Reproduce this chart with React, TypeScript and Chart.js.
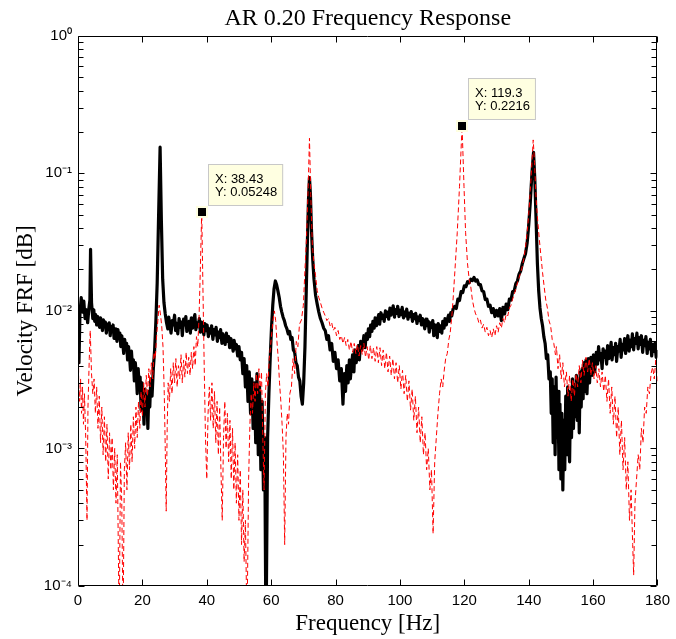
import React, { useEffect, useRef } from "react";
import { Chart, registerables } from "chart.js";

Chart.register(...registerables);

const chartTitle = "AR 0.20 Frequency Response";
const xAxisTitle = "Frequency [Hz]";
const yAxisTitle = "Velocity FRF [dB]";

const xTicks = [0, 20, 40, 60, 80, 100, 120, 140, 160, 180];
const yDecades = [1e-4, 1e-3, 1e-2, 1e-1, 1];
const yTickLabels = ["10\u207B\u2074", "10\u207B\u00B3", "10\u207B\u00B2", "10\u207B\u00B9", "10\u2070"];

// Black solid series: [frequency Hz, magnitude]
const blackSeries: [number, number][] = [
  [0, 0.0085], [0.3, 0.0042], [0.6, 0.0095], [1.0, 0.0125], [1.4, 0.0098], [1.8, 0.0118], [2.2, 0.0088], [2.6, 0.0102],
  [3.0, 0.0082], [3.4, 0.0105], [3.7, 0.012], [3.9, 0.028], [4.2, 0.0115], [4.6, 0.0088], [4.9, 0.0102], [5.2, 0.0084],
  [5.5, 0.0094], [5.8, 0.0079], [6.1, 0.0091], [6.4, 0.0085], [6.7, 0.0076], [7.0, 0.0089], [7.3, 0.0081], [7.6, 0.0072],
  [7.9, 0.0086], [8.2, 0.0078], [8.5, 0.0083], [8.8, 0.0069], [9.1, 0.008], [9.4, 0.0074], [9.7, 0.0082], [10.0, 0.0066],
  [10.3, 0.0077], [10.6, 0.0071], [10.9, 0.0079], [11.2, 0.0063], [11.5, 0.0074], [11.8, 0.0068], [12.1, 0.006], [12.4, 0.0073],
  [12.7, 0.0064], [13.0, 0.0069], [13.3, 0.0055], [13.6, 0.0066], [13.9, 0.0058], [14.2, 0.0049], [14.5, 0.0062], [14.8, 0.0053],
  [15.1, 0.0058], [15.4, 0.0044], [15.7, 0.0055], [16.0, 0.0047], [16.3, 0.0037], [16.6, 0.0051], [16.9, 0.004], [17.2, 0.0044],
  [17.5, 0.0031], [17.8, 0.0042], [18.1, 0.0035], [18.4, 0.0025], [18.7, 0.0038], [19.0, 0.0028], [19.3, 0.0033], [19.6, 0.0019],
  [19.9, 0.003], [20.2, 0.0022], [20.5, 0.0015], [20.8, 0.0027], [21.1, 0.0018], [21.4, 0.0024], [21.7, 0.0014], [22.0, 0.0026],
  [22.3, 0.002], [22.6, 0.0032], [23.0, 0.0024], [23.4, 0.0038], [23.8, 0.0052], [24.2, 0.0085], [24.6, 0.016], [25.0, 0.045],
  [25.5, 0.155], [25.9, 0.045], [26.3, 0.017], [26.7, 0.0115], [27.1, 0.0095], [27.5, 0.0082], [27.9, 0.0074], [28.2, 0.009],
  [28.6, 0.0078], [28.9, 0.0069], [29.3, 0.0085], [29.6, 0.0079], [30.0, 0.0093], [30.3, 0.0072], [30.7, 0.0081], [31.0, 0.0068],
  [31.4, 0.0088], [31.7, 0.0076], [32.1, 0.0083], [32.4, 0.0066], [32.8, 0.0087], [33.1, 0.0079], [33.5, 0.0091], [33.8, 0.0071],
  [34.2, 0.0078], [34.5, 0.0084], [34.9, 0.0069], [35.2, 0.0089], [35.6, 0.0075], [35.9, 0.0086], [36.3, 0.0094], [36.6, 0.0073],
  [37.0, 0.0082], [37.3, 0.0077], [37.7, 0.0088], [38.0, 0.007], [38.4, 0.0083], [38.7, 0.0076], [39.1, 0.0067], [39.4, 0.0081],
  [39.8, 0.0072], [40.1, 0.0079], [40.5, 0.0065], [40.8, 0.0074], [41.2, 0.0069], [41.5, 0.0078], [41.9, 0.0062], [42.2, 0.0073],
  [42.6, 0.0067], [42.9, 0.0076], [43.3, 0.006], [43.6, 0.007], [44.0, 0.0064], [44.3, 0.0073], [44.7, 0.0058], [45.0, 0.0068],
  [45.4, 0.0062], [45.7, 0.0057], [46.1, 0.0069], [46.4, 0.006], [46.8, 0.0065], [47.1, 0.0054], [47.5, 0.0063], [47.8, 0.0058],
  [48.2, 0.0051], [48.5, 0.0061], [48.9, 0.0053], [49.2, 0.0057], [49.6, 0.0047], [50.0, 0.0055], [50.4, 0.0044], [50.8, 0.005],
  [51.2, 0.0035], [51.6, 0.0045], [52.0, 0.0028], [52.4, 0.004], [52.8, 0.0022], [53.2, 0.0036], [53.6, 0.0018], [54.0, 0.0032],
  [54.4, 0.0014], [54.8, 0.003], [55.2, 0.0011], [55.6, 0.0035], [56.0, 0.0009], [56.4, 0.0028], [56.8, 0.0007], [57.2, 0.0022],
  [57.6, 0.0005], [58.0, 0.0012], [58.2, 0.0002], [58.4, 0.00004], [58.7, 0.00004], [58.9, 0.0012], [59.3, 0.0025], [59.7, 0.0045],
  [60.1, 0.0075], [60.5, 0.011], [60.9, 0.0145], [61.3, 0.0165], [61.7, 0.0155], [62.1, 0.014], [62.5, 0.0125], [62.9, 0.0108],
  [63.3, 0.0098], [63.7, 0.009], [64.1, 0.0085], [64.5, 0.0078], [64.9, 0.0074], [65.3, 0.0068], [65.7, 0.0071], [66.1, 0.0062],
  [66.5, 0.0064], [66.9, 0.0052], [67.3, 0.005], [67.7, 0.0042], [68.1, 0.004], [68.5, 0.0033], [68.9, 0.0031], [69.3, 0.0024],
  [69.7, 0.0021], [70.1, 0.003], [70.5, 0.0055], [70.9, 0.014], [71.3, 0.035], [71.6, 0.065], [71.9, 0.093], [72.2, 0.07],
  [72.5, 0.04], [72.9, 0.024], [73.3, 0.017], [73.8, 0.013], [74.3, 0.0112], [74.8, 0.0098], [75.3, 0.0088], [75.8, 0.0082],
  [76.3, 0.0075], [76.8, 0.0072], [77.3, 0.0062], [77.8, 0.0066], [78.3, 0.0052], [78.8, 0.0058], [79.3, 0.0043], [79.8, 0.005],
  [80.3, 0.0038], [80.8, 0.0044], [81.3, 0.0031], [81.8, 0.0038], [82.3, 0.0021], [82.7, 0.0035], [83.1, 0.0026], [83.5, 0.004],
  [83.9, 0.003], [84.3, 0.0044], [84.6, 0.0032], [85.0, 0.0041], [85.3, 0.0048], [85.7, 0.0036], [86.0, 0.0052], [86.4, 0.0042],
  [86.7, 0.0047], [87.1, 0.0056], [87.4, 0.0044], [87.8, 0.006], [88.1, 0.0052], [88.5, 0.0058], [88.8, 0.0066], [89.2, 0.0054],
  [89.5, 0.0068], [89.9, 0.0062], [90.2, 0.0074], [90.6, 0.0065], [90.9, 0.0079], [91.3, 0.0071], [91.6, 0.0084], [92.0, 0.0075],
  [92.3, 0.0089], [92.7, 0.0078], [93.0, 0.0086], [93.4, 0.0094], [93.7, 0.008], [94.1, 0.0097], [94.4, 0.0088], [94.8, 0.0093],
  [95.1, 0.0084], [95.5, 0.01], [95.8, 0.0091], [96.2, 0.0098], [96.5, 0.0087], [96.9, 0.0105], [97.2, 0.0093], [97.6, 0.0099],
  [97.9, 0.0109], [98.3, 0.009], [98.6, 0.0102], [99.0, 0.0096], [99.3, 0.0108], [99.7, 0.0091], [100.0, 0.0101], [100.4, 0.0094],
  [100.7, 0.0106], [101.1, 0.0089], [101.4, 0.0098], [101.8, 0.0092], [102.1, 0.0103], [102.5, 0.0087], [102.8, 0.0096], [103.2, 0.0091],
  [103.5, 0.0099], [103.9, 0.0084], [104.2, 0.0094], [104.6, 0.0088], [104.9, 0.0096], [105.3, 0.0081], [105.6, 0.009], [106.0, 0.0085],
  [106.3, 0.0093], [106.7, 0.0079], [107.0, 0.0088], [107.4, 0.0083], [107.7, 0.0074], [108.1, 0.0087], [108.4, 0.0078], [108.8, 0.0084],
  [109.1, 0.007], [109.5, 0.0082], [109.8, 0.0076], [110.2, 0.0085], [110.5, 0.0066], [110.9, 0.0079], [111.2, 0.0072], [111.6, 0.0064],
  [111.9, 0.0081], [112.3, 0.0071], [112.6, 0.0078], [113.0, 0.0069], [113.3, 0.0084], [113.7, 0.0075], [114.0, 0.0088], [114.4, 0.0079],
  [114.7, 0.0086], [115.1, 0.0093], [115.4, 0.0084], [115.8, 0.0097], [116.1, 0.0092], [116.5, 0.0103], [117.0, 0.0108], [117.5, 0.0104],
  [118.0, 0.0122], [118.5, 0.0119], [119.0, 0.0138], [119.5, 0.0136], [120.0, 0.0152], [120.5, 0.015], [121.0, 0.0163], [121.5, 0.016],
  [122.0, 0.017], [122.5, 0.0166], [123.0, 0.0175], [123.5, 0.0165], [124.0, 0.0168], [124.5, 0.0155], [125.0, 0.0155], [125.5, 0.014],
  [126.0, 0.0138], [126.5, 0.0121], [127.0, 0.0122], [127.5, 0.0108], [128.0, 0.011], [128.5, 0.0097], [129.0, 0.0104], [129.5, 0.0091],
  [130.0, 0.0101], [130.5, 0.0092], [131.0, 0.0104], [131.5, 0.0085], [132.0, 0.0106], [132.5, 0.0095], [133.0, 0.0112], [133.5, 0.0102],
  [134.0, 0.0122], [134.5, 0.012], [135.0, 0.0138], [135.5, 0.014], [136.0, 0.0158], [136.5, 0.0165], [137.0, 0.0185], [137.5, 0.0195],
  [138.0, 0.022], [138.5, 0.024], [139.0, 0.026], [139.5, 0.031], [140.0, 0.042], [140.5, 0.062], [141.0, 0.1], [141.5, 0.142],
  [141.9, 0.09], [142.3, 0.045], [142.7, 0.022], [143.1, 0.014], [143.5, 0.0105], [143.9, 0.0088], [144.3, 0.0078], [144.7, 0.0065],
  [145.1, 0.0058], [145.5, 0.0045], [145.9, 0.0048], [146.3, 0.0032], [146.7, 0.0036], [147.0, 0.0018], [147.3, 0.0032], [147.6, 0.0011],
  [147.9, 0.0028], [148.2, 0.0009], [148.5, 0.0033], [148.8, 0.0012], [149.1, 0.0026], [149.4, 0.0007], [149.7, 0.0021], [150.0, 0.0006],
  [150.3, 0.0018], [150.6, 0.0005], [150.9, 0.0016], [151.2, 0.0007], [151.5, 0.0024], [151.8, 0.0009], [152.1, 0.0028], [152.4, 0.0011],
  [152.7, 0.0008], [153.0, 0.0026], [153.3, 0.0012], [153.6, 0.0032], [153.9, 0.0014], [154.2, 0.0029], [154.5, 0.0017], [154.8, 0.0034],
  [155.1, 0.0016], [155.4, 0.0031], [155.7, 0.0013], [156.0, 0.0036], [156.3, 0.002], [156.6, 0.0038], [156.9, 0.0023], [157.2, 0.0042],
  [157.5, 0.0026], [157.8, 0.0044], [158.1, 0.0025], [158.5, 0.0045], [158.9, 0.003], [159.3, 0.0046], [159.7, 0.0034], [160.1, 0.0048],
  [160.5, 0.0036], [161.0, 0.005], [161.4, 0.0041], [161.7, 0.0055], [162.1, 0.0044], [162.4, 0.0049], [162.8, 0.0038], [163.1, 0.0053],
  [163.5, 0.0046], [163.8, 0.0051], [164.2, 0.0041], [164.5, 0.0056], [164.9, 0.0045], [165.2, 0.005], [165.6, 0.0059], [165.9, 0.0044],
  [166.3, 0.0054], [166.6, 0.0048], [167.0, 0.0058], [167.3, 0.0043], [167.7, 0.0055], [168.0, 0.0051], [168.4, 0.0062], [168.7, 0.0046],
  [169.1, 0.0057], [169.4, 0.0052], [169.8, 0.0063], [170.1, 0.0049], [170.5, 0.0059], [170.8, 0.0066], [171.2, 0.0051], [171.5, 0.0061],
  [171.9, 0.0055], [172.2, 0.0068], [172.6, 0.0052], [172.9, 0.0063], [173.3, 0.0058], [173.6, 0.0069], [174.0, 0.0053], [174.3, 0.0064],
  [174.7, 0.0057], [175.0, 0.0066], [175.4, 0.005], [175.7, 0.0061], [176.1, 0.0056], [176.4, 0.0065], [176.8, 0.0049], [177.1, 0.0059],
  [177.5, 0.0053], [177.8, 0.0062], [178.2, 0.0047], [178.5, 0.0057], [178.9, 0.0051], [179.2, 0.0058], [179.6, 0.0046], [180.0, 0.0052],
];

// Red dashed series: [frequency Hz, magnitude]
const redSeries: [number, number][] = [
  [0, 0.11], [0.2, 0.003], [0.5, 0.0022], [0.8, 0.0032], [1.1, 0.0018], [1.4, 0.0028], [1.7, 0.0015], [2.0, 0.0025],
  [2.4, 0.0012], [2.8, 0.0003], [3.1, 0.002], [3.5, 0.0045], [3.8, 0.0072], [4.2, 0.0035], [4.6, 0.0025], [5.0, 0.0032],
  [5.4, 0.0018], [5.8, 0.0028], [6.2, 0.0014], [6.6, 0.0024], [7.0, 0.0011], [7.4, 0.002], [7.8, 0.0009], [8.2, 0.0017],
  [8.6, 0.0008], [9.0, 0.0015], [9.4, 0.0006], [9.8, 0.0013], [10.2, 0.0007], [10.6, 0.0012], [11.0, 0.0005], [11.4, 0.001],
  [11.8, 0.0004], [12.2, 0.0009], [12.8, 0.00005], [13.2, 0.0008], [13.6, 0.0004], [14.0, 0.00005], [14.4, 0.0007], [14.8, 0.0011],
  [15.2, 0.0005], [15.6, 0.0013], [16.0, 0.0007], [16.4, 0.0015], [16.8, 0.0008], [17.2, 0.0017], [17.6, 0.001], [18.0, 0.002],
  [18.4, 0.0012], [18.8, 0.0022], [19.2, 0.0014], [19.6, 0.0026], [20.0, 0.0017], [20.4, 0.003], [20.8, 0.002], [21.2, 0.0034],
  [21.6, 0.0024], [22.0, 0.0038], [22.4, 0.0028], [22.8, 0.0042], [23.2, 0.0032], [23.6, 0.005], [24.0, 0.0045], [24.4, 0.0065],
  [24.8, 0.0085], [25.2, 0.011], [25.6, 0.0095], [26.0, 0.0078], [26.4, 0.0055], [26.8, 0.0025], [27.1, 0.001], [27.4, 0.00035],
  [27.7, 0.0014], [28.0, 0.003], [28.4, 0.0022], [28.8, 0.0038], [29.2, 0.0025], [29.6, 0.0042], [30.0, 0.003], [30.4, 0.0045],
  [30.8, 0.0028], [31.2, 0.004], [31.6, 0.0032], [32.0, 0.0048], [32.4, 0.003], [32.8, 0.0044], [33.2, 0.0033], [33.6, 0.005],
  [34.0, 0.0035], [34.4, 0.0046], [34.8, 0.0034], [35.2, 0.005], [35.6, 0.0038], [36.0, 0.0055], [36.4, 0.004], [36.8, 0.0065],
  [37.2, 0.0055], [37.6, 0.009], [38.0, 0.02], [38.43, 0.05248], [38.8, 0.015], [39.2, 0.004], [39.6, 0.0012], [40.0, 0.0006],
  [40.4, 0.0018], [40.8, 0.0028], [41.2, 0.0016], [41.6, 0.003], [42.0, 0.0014], [42.4, 0.0026], [42.8, 0.0011], [43.2, 0.0022],
  [43.6, 0.0009], [44.0, 0.002], [44.4, 0.0007], [44.8, 0.0003], [45.2, 0.0012], [45.6, 0.0022], [46.0, 0.001], [46.4, 0.0018],
  [46.8, 0.0008], [47.2, 0.0016], [47.6, 0.0006], [48.0, 0.0014], [48.4, 0.0005], [48.8, 0.0011], [49.2, 0.0004], [49.6, 0.0009],
  [50.0, 0.0003], [50.4, 0.0007], [50.8, 0.0002], [51.2, 0.0005], [51.6, 0.00015], [52.0, 0.0003], [52.5, 0.00005], [53.0, 0.0006],
  [53.4, 0.0015], [53.8, 0.0025], [54.2, 0.0018], [54.6, 0.003], [55.0, 0.0022], [55.4, 0.0035], [55.8, 0.0025], [56.2, 0.0038],
  [56.6, 0.0026], [57.0, 0.0036], [57.4, 0.0012], [57.8, 0.0005], [58.2, 0.0025], [58.6, 0.0035], [59.0, 0.0028], [59.4, 0.0045],
  [59.8, 0.0055], [60.2, 0.007], [60.6, 0.0086], [61.0, 0.01], [61.4, 0.0085], [61.8, 0.006], [62.2, 0.0045], [62.6, 0.003],
  [63.0, 0.0022], [63.4, 0.0015], [63.8, 0.0009], [64.2, 0.0002], [64.6, 0.0012], [65.0, 0.0018], [65.4, 0.0015], [65.8, 0.0025],
  [66.3, 0.0028], [66.8, 0.0045], [67.3, 0.0035], [67.8, 0.006], [68.3, 0.0055], [68.8, 0.008], [69.4, 0.0086], [70.0, 0.011],
  [70.5, 0.02], [71.0, 0.035], [71.5, 0.08], [71.9, 0.18], [72.3, 0.07], [72.8, 0.03], [73.3, 0.022], [73.8, 0.018],
  [74.3, 0.014], [74.8, 0.0125], [75.3, 0.0115], [75.8, 0.0105], [76.3, 0.0098], [76.8, 0.0092], [77.3, 0.0085], [77.8, 0.0088],
  [78.3, 0.0078], [78.8, 0.0082], [79.3, 0.0072], [79.8, 0.0076], [80.3, 0.0066], [80.8, 0.0072], [81.3, 0.0062], [81.8, 0.0066],
  [82.3, 0.0058], [82.8, 0.0064], [83.3, 0.0056], [83.8, 0.0062], [84.3, 0.0052], [84.8, 0.006], [85.3, 0.005], [85.8, 0.0058],
  [86.3, 0.0049], [86.8, 0.0057], [87.3, 0.0047], [87.8, 0.0056], [88.3, 0.0048], [88.8, 0.0058], [89.3, 0.0046], [89.8, 0.0055],
  [90.3, 0.0044], [90.8, 0.0056], [91.3, 0.0045], [91.8, 0.0054], [92.3, 0.0043], [92.8, 0.0055], [93.3, 0.0042], [93.8, 0.0054],
  [94.3, 0.004], [94.8, 0.0052], [95.3, 0.0038], [95.8, 0.005], [96.3, 0.0036], [96.8, 0.0047], [97.3, 0.0034], [97.8, 0.0045],
  [98.3, 0.0032], [98.8, 0.0042], [99.3, 0.003], [99.8, 0.004], [100.3, 0.0027], [100.8, 0.0037], [101.3, 0.0025], [101.8, 0.0034],
  [102.3, 0.0022], [102.8, 0.0031], [103.3, 0.0019], [103.8, 0.0027], [104.3, 0.0016], [104.8, 0.0024], [105.3, 0.0013], [105.8, 0.002],
  [106.3, 0.0011], [106.8, 0.0017], [107.3, 0.0009], [107.8, 0.0013], [108.3, 0.0007], [108.8, 0.001], [109.3, 0.0005], [109.8, 0.0007],
  [110.3, 0.00024], [110.8, 0.0008], [111.3, 0.0012], [111.8, 0.0018], [112.3, 0.0025], [112.8, 0.0032], [113.3, 0.0028], [113.7, 0.0036],
  [114.2, 0.0045], [114.7, 0.0049], [115.2, 0.0062], [115.6, 0.0069], [116.1, 0.009], [116.6, 0.013], [117.1, 0.02], [117.8, 0.037],
  [118.5, 0.08], [119.3, 0.2216], [119.9, 0.08], [120.4, 0.037], [121.0, 0.022], [121.5, 0.017], [122.0, 0.015], [122.5, 0.012],
  [123.0, 0.0105], [123.5, 0.0095], [124.0, 0.0091], [124.5, 0.0082], [125.0, 0.0086], [125.5, 0.0075], [126.0, 0.008], [126.5, 0.007],
  [127.0, 0.0076], [127.5, 0.0066], [128.0, 0.0072], [128.5, 0.0064], [129.0, 0.0074], [129.5, 0.0066], [130.0, 0.0078], [130.5, 0.007],
  [131.0, 0.0082], [131.5, 0.0075], [132.0, 0.0088], [132.5, 0.0082], [133.0, 0.0095], [133.5, 0.0092], [134.0, 0.0105], [134.5, 0.011],
  [135.0, 0.0122], [135.5, 0.0132], [136.0, 0.0145], [136.5, 0.016], [137.0, 0.0175], [137.5, 0.019], [138.0, 0.021], [138.5, 0.024],
  [139.0, 0.029], [139.5, 0.037], [140.0, 0.05], [140.5, 0.075], [141.0, 0.12], [141.4, 0.175], [141.8, 0.12], [142.3, 0.065],
  [142.8, 0.045], [143.3, 0.033], [143.8, 0.025], [144.3, 0.019], [144.8, 0.015], [145.3, 0.012], [145.8, 0.0105], [146.3, 0.0085],
  [146.8, 0.0078], [147.3, 0.0062], [147.8, 0.0058], [148.3, 0.0048], [148.6, 0.0055], [149.1, 0.0038], [149.6, 0.0048], [150.1, 0.0032],
  [150.6, 0.0042], [151.1, 0.0028], [151.7, 0.0036], [152.2, 0.0024], [152.7, 0.0034], [153.2, 0.0022], [153.7, 0.0032], [154.2, 0.0024],
  [154.7, 0.0035], [155.2, 0.0028], [155.7, 0.004], [156.2, 0.003], [156.7, 0.0044], [157.2, 0.0034], [157.8, 0.0046], [158.3, 0.0036],
  [158.8, 0.0045], [159.3, 0.0034], [159.8, 0.0042], [160.3, 0.0032], [160.8, 0.004], [161.3, 0.003], [161.8, 0.0038], [162.3, 0.0028],
  [162.8, 0.0036], [163.3, 0.0026], [163.8, 0.0034], [164.3, 0.0022], [164.8, 0.0032], [165.3, 0.0018], [165.8, 0.0028], [166.3, 0.0015],
  [166.8, 0.0024], [167.3, 0.0012], [167.8, 0.002], [168.3, 0.0009], [168.8, 0.0016], [169.3, 0.0007], [169.8, 0.0012], [170.3, 0.0005],
  [170.8, 0.0008], [171.3, 0.0003], [171.8, 0.0005], [172.3, 0.0002], [172.6, 0.00012], [173.0, 0.0004], [173.5, 0.0006], [174.0, 0.0009],
  [174.5, 0.0007], [175.0, 0.0014], [175.5, 0.0011], [176.0, 0.002], [176.5, 0.0018], [177.0, 0.0028], [177.5, 0.0025], [178.0, 0.0035],
  [178.5, 0.0039], [179.0, 0.0032], [179.5, 0.0045], [180.0, 0.003],
];

// Data tips placed on the red series
const dataTipX = [38.43, 119.3];
const dataTipY = [0.05248, 0.2216];

const SANS = '"Liberation Sans", Arial, Helvetica, sans-serif';
const SERIF = '"Liberation Serif", "Times New Roman", serif';

const framePlugin = {
  id: "matlabFrame",
  afterDatasetsDraw(chart: any) {
    const { ctx, chartArea: a, scales } = chart;
    const xs = scales.x;
    const ys = scales.y;
    ctx.save();
    ctx.strokeStyle = "#000";
    ctx.lineWidth = 1;
    const L = Math.round(a.left) + 0.5;
    const R = Math.round(a.right) - 0.5;
    const T = Math.round(a.top) + 0.5;
    const B = Math.round(a.bottom) - 0.5;
    ctx.beginPath();
    ctx.rect(L, T, R - L, B - T);
    ctx.stroke();
    const tick = 6;
    ctx.beginPath();
    for (const v of xTicks) {
      const px = Math.round(xs.getPixelForValue(v)) + 0.5;
      ctx.moveTo(px, B);
      ctx.lineTo(px, B - tick);
      ctx.moveTo(px, T);
      ctx.lineTo(px, T + tick);
    }
    for (let e = -4; e <= 0; e++) {
      for (let m = 1; m <= 9; m++) {
        if (e === 0 && m > 1) break;
        const v = m * Math.pow(10, e);
        const py = Math.round(ys.getPixelForValue(v)) + 0.5;
        const len = m === 1 ? tick : 5;
        ctx.moveTo(L, py);
        ctx.lineTo(L + len, py);
        ctx.moveTo(R, py);
        ctx.lineTo(R - len, py);
      }
    }
    ctx.stroke();

    // data tips
    ctx.font = `13px ${SANS}`;
    for (let i = 0; i < dataTipX.length; i++) {
      const mx = xs.getPixelForValue(dataTipX[i]);
      const my = ys.getPixelForValue(dataTipY[i]);
      ctx.fillStyle = "#FFFFE1";
      ctx.fillRect(Math.round(mx) - 6, Math.round(my) - 6, 12, 12);
      ctx.fillStyle = "#000";
      ctx.fillRect(Math.round(mx) - 4, Math.round(my) - 4, 8, 8);
      const l1 = `X: ${dataTipX[i]}`;
      const l2 = `Y: ${dataTipY[i]}`;
      const w = Math.max(ctx.measureText(l1).width, ctx.measureText(l2).width) + 13;
      const h = 42;
      const bx = Math.round(mx) + 6;
      const by = Math.round(my) - 6 - h;
      ctx.fillStyle = "#FFFFE1";
      ctx.fillRect(bx, by, w, h);
      ctx.strokeStyle = "#C8C8C8";
      ctx.strokeRect(bx + 0.5, by + 0.5, w - 1, h - 1);
      ctx.fillStyle = "#000";
      ctx.textBaseline = "middle";
      ctx.textAlign = "left";
      ctx.fillText(l1, bx + 7, by + 15);
      ctx.fillText(l2, bx + 7, by + 28);
    }
    ctx.restore();
  },
};

export default function App() {
  const canvasRef = useRef<HTMLCanvasElement | null>(null);

  useEffect(() => {
    if (!canvasRef.current) return;
    const chart = new Chart(canvasRef.current, {
      type: "line",
      data: {
        datasets: [
          {
            label: "red",
            data: redSeries.map(([x, y]) => ({ x, y })),
            borderColor: "#FF0000",
            borderWidth: 1,
            borderDash: [5, 3],
            pointRadius: 0,
            tension: 0,
            fill: false,
          },
          {
            label: "black",
            data: blackSeries.map(([x, y]) => ({ x, y })),
            borderColor: "#000000",
            borderWidth: 3.2,
            borderJoinStyle: "round",
            pointRadius: 0,
            tension: 0,
            fill: false,
          },
        ],
      },
      options: {
        responsive: false,
        animation: false,
        devicePixelRatio: 1,
        layout: { padding: { left: 0, right: 14, top: 0, bottom: 0 } },
        plugins: {
          legend: { display: false },
          tooltip: { enabled: false },
          title: {
            display: true,
            fullSize: false,
            text: chartTitle,
            color: "#000",
            font: { family: SERIF, size: 24, weight: "normal" },
            padding: { top: 4, bottom: 3 },
          },
        },
        scales: {
          x: {
            type: "linear",
            min: 0,
            max: 180,
            grid: { display: false, drawTicks: false },
            border: { display: false },
            ticks: {
              stepSize: 20,
              autoSkip: false,
              maxRotation: 0,
              padding: 6,
              color: "#000",
              font: { family: SANS, size: 15 },
              callback: (v: any) => (xTicks.includes(Number(v)) ? String(v) : ""),
            },
            title: {
              display: true,
              text: xAxisTitle,
              color: "#000",
              font: { family: SERIF, size: 23 },
              padding: { top: 0, bottom: 1 },
            },
            afterFit: (scale: any) => {
              scale.height = 53;
            },
          },
          y: {
            type: "logarithmic",
            min: 1e-4,
            max: 1,
            grid: { display: false, drawTicks: false },
            border: { display: false },
            ticks: {
              autoSkip: false,
              padding: 6,
              color: "#000",
              font: { family: SANS, size: 15 },
              callback: (v: any) => {
                const lv = Math.log10(Number(v));
                const idx = yDecades.findIndex((d) => Math.abs(Math.log10(d) - lv) < 1e-6);
                return idx >= 0 ? yTickLabels[idx] : "";
              },
            },
            title: {
              display: true,
              text: yAxisTitle,
              color: "#000",
              font: { family: SERIF, size: 23 },
              padding: { top: 12, bottom: 0 },
            },
            afterFit: (scale: any) => {
              scale.width = 78;
            },
          },
        },
      },
      plugins: [framePlugin],
    } as any);
    return () => chart.destroy();
  }, []);

  return (
    <div style={{ position: "absolute", left: 0, top: 0, width: 676, height: 639, background: "#fff" }}>
      <canvas ref={canvasRef} width={676} height={639} />
    </div>
  );
}
